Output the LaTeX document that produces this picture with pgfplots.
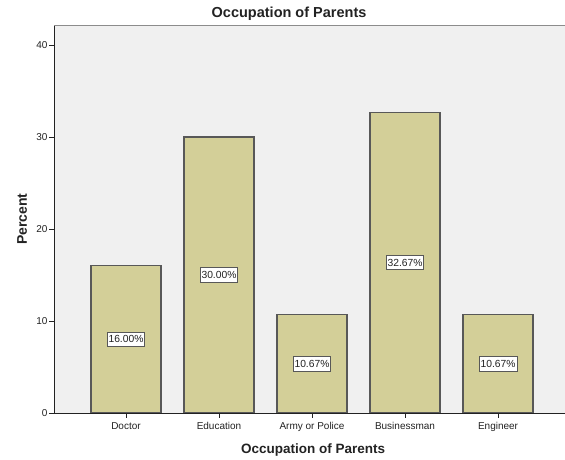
\documentclass[border=0pt]{standalone}
\usepackage{pgfplots}
\usepackage{pgfplotstable}
\pgfplotsset{compat=1.18}
\usepackage{fontspec}
\setmainfont{Liberation Sans}

\definecolor{barfill}{RGB}{211,207,152}
\definecolor{barline}{RGB}{88,88,88}
\definecolor{plotbg}{RGB}{240,240,240}
\definecolor{txt}{RGB}{34,34,34}
\definecolor{frame}{RGB}{140,140,140}

% Occupation of parents, percent of respondents
\pgfplotstableread{
x y
0 16.00
1 30.00
2 10.67
3 32.67
4 10.67
}\occdata

\begin{document}
\begin{tikzpicture}
\useasboundingbox (0,0) rectangle (565pt,460pt);
\begin{axis}[
  at={(54pt,47pt)}, anchor=south west,
  scale only axis, width=511pt, height=387.7pt,
  xmin=-0.774, xmax=4.72, ymin=0, ymax=42.15,
  axis background/.style={fill=plotbg},
  axis x line*=bottom, axis y line*=left,
  axis line style={draw=txt, line width=0.9pt},
  tick align=outside, major tick length=5pt,
  tick style={draw=txt, line width=0.9pt},
  xtick={0,1,2,3,4},
  xticklabels={Doctor,Education,Army or Police,Businessman,Engineer},
  ytick={0,10,20,30,40},
  /pgf/number format/assume math mode=true,
  tick label style={font=\fontsize{10}{12}\selectfont, text=txt},
  xticklabel style={yshift=-1pt},
  yticklabel style={xshift=2pt},
  title={\textbf{Occupation of Parents}},
  title style={at={(axis description cs:0.46,1)}, anchor=base, yshift=2pt,
    font=\fontsize{14.5}{16}\selectfont, text=txt},
  xlabel={\textbf{Occupation of Parents}},
  xlabel style={at={(axis description cs:0.507,0)}, anchor=center, yshift=-37pt,
    font=\fontsize{13.5}{15}\selectfont, text=txt},
  ylabel={\textbf{Percent}},
  ylabel style={at={(axis description cs:-0.0626,0.5)}, anchor=center,
    font=\fontsize{14}{16}\selectfont, text=txt},
]
\addplot[ybar, bar width=70pt, fill=barfill, draw=barline, line width=1.2pt]
  table[x=x, y=y] {\occdata};
\addplot[draw=none, point meta=explicit,
  nodes near coords={\pgfmathprintnumber[fixed,fixed zerofill,precision=2]{\pgfplotspointmeta}\%},
  every node near coord/.style={anchor=center, fill=white, draw=barline,
    line width=1pt, inner xsep=1.5pt, inner ysep=3.5pt, text=txt,
    font=\fontsize{10.3}{12}\selectfont}]
  table[x=x, y expr=\thisrow{y}/2, meta=y] {\occdata};
\draw[frame, line width=1.5pt] (rel axis cs:0,1) -- (rel axis cs:1,1);
\end{axis}
\end{tikzpicture}
\end{document}
